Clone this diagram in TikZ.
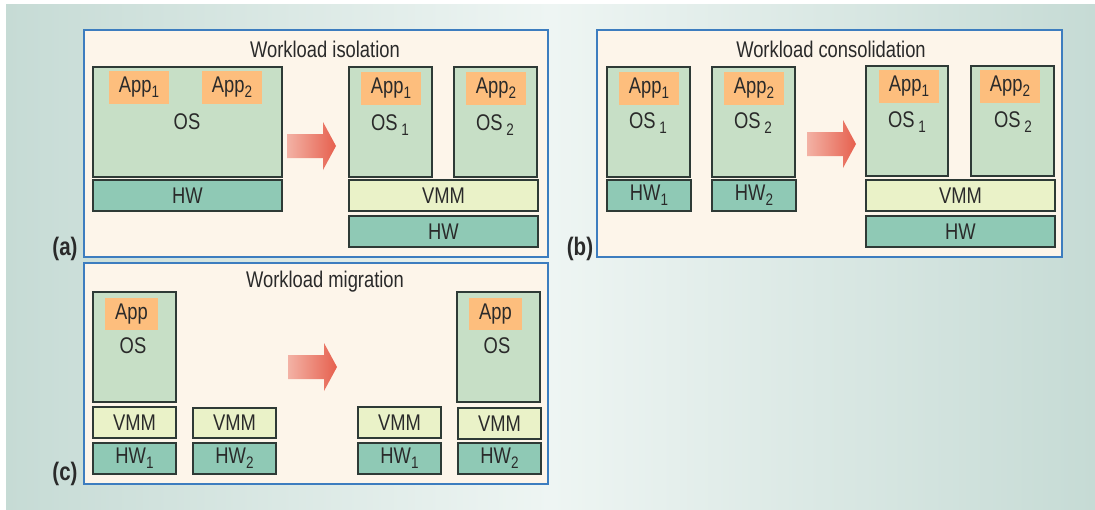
\documentclass[tikz,border=0pt]{standalone}
\usepackage{fontspec}
\setmainfont{Liberation Sans}[FakeStretch=0.81]

\definecolor{panelfill}{HTML}{FDF5EA}
\definecolor{panelline}{HTML}{3D7DBF}
\definecolor{osfill}{HTML}{C7DFC6}
\definecolor{appfill}{HTML}{FDBE7D}
\definecolor{hwfill}{HTML}{8FC9B5}
\definecolor{vmmfill}{HTML}{EAF2C8}
\definecolor{boxline}{HTML}{2E3A36}
\definecolor{bgside}{HTML}{C6DBD5}
\definecolor{bgmid}{HTML}{EEF5F3}
\definecolor{arrowlight}{HTML}{F3B2A5}
\definecolor{arrowdark}{HTML}{E6604E}
\definecolor{txt}{HTML}{2A2A2A}

\tikzset{every picture/.style={line width=0.75pt},
	every node/.style={inner sep=0pt, outer sep=0pt, text=txt, font=\fontsize{17}{19}\selectfont},
	panel/.style={draw=panelline, fill=panelfill, line width=1.1pt},
	osbox/.style={draw=boxline, fill=osfill, line width=1.2pt},
	appbox/.style={fill=appfill},
	hwbox/.style={draw=boxline, fill=hwfill, line width=1.2pt},
	vmmbox/.style={draw=boxline, fill=vmmfill, line width=1.2pt},
	tag/.style={font=\fontsize{19}{21}\selectfont\bfseries}}

% box from its corners (x1,y1) (x2,y2)
\newcommand\layer[7]{\node[#2, minimum width={(#5-#3)*0.75pt}, minimum height={(#6-#4)*0.75pt}] (#1) at ({(#3+#5)/2},{(#4+#6)/2}) {#7};}
\newcommand\idx[1]{\raisebox{-0.4ex}{\fontsize{12.5}{12.5}\selectfont #1}}
% shaded arrow, start x and middle y
\newcommand\movearrow[2]{\shade[left color=arrowlight, right color=arrowdark] (#1,#2-12) -- (#1+36,#2-12) -- (#1+36,#2-24) -- (#1+49,#2) -- (#1+36,#2+24) -- (#1+36,#2+12) -- (#1,#2+12) -- cycle;}

\begin{document}
\begin{tikzpicture}[x=0.75pt,y=0.75pt,yscale=-1]
	\useasboundingbox (0,0) rectangle (1095,510);
	\shade[left color=bgside, right color=bgside, middle color=bgmid] (6,5) rectangle (1095,510);

	% (a)
	\layer{pa}{panel}{84}{30}{548}{257}{}
	\node (pa-title) at (325,49) {Workload isolation};
	\layer{a-os}{osbox}{93}{67}{282}{177}{}
	\layer{a-app1}{appbox}{109}{71}{169}{104}{App\idx{1}}
	\layer{a-app2}{appbox}{202}{71}{262}{104}{App\idx{2}}
	\node (a-ostxt) at (187,122) {OS};
	\layer{a-hw}{hwbox}{93}{180}{282}{211}{HW}
	\movearrow{287}{146}
	\layer{a-os1}{osbox}{349}{67}{432}{177}{}
	\layer{a-os2}{osbox}{454}{67}{537}{177}{}
	\layer{a-vapp1}{appbox}{361}{72}{421}{105}{App\idx{1}}
	\layer{a-vapp2}{appbox}{466}{72}{526}{105}{App\idx{2}}
	\node (a-os1txt) at (390,125) {OS\,\idx{1}};
	\node (a-os2txt) at (495,125) {OS\,\idx{2}};
	\layer{a-vmm}{vmmbox}{349}{180}{538}{211}{VMM}
	\layer{a-vhw}{hwbox}{349}{216}{538}{247}{HW}
	\node[tag] (a-tag) at (65,249) {(a)};

	% (b)
	\layer{pb}{panel}{597}{30}{1062}{257}{}
	\node (pb-title) at (831,49) {Workload consolidation};
	\layer{b-os1}{osbox}{607}{67}{690}{177}{}
	\layer{b-app1}{appbox}{619}{72}{679}{105}{App\idx{1}}
	\node (b-os1txt) at (648,123) {OS\,\idx{1}};
	\layer{b-hw1}{hwbox}{607}{180}{691}{211}{HW\idx{1}}
	\layer{b-os2}{osbox}{712}{67}{795}{177}{}
	\layer{b-app2}{appbox}{724}{72}{784}{105}{App\idx{2}}
	\node (b-os2txt) at (753,123) {OS\,\idx{2}};
	\layer{b-hw2}{hwbox}{712}{180}{796}{211}{HW\idx{2}}
	\movearrow{807}{144}
	\layer{b-vos1}{osbox}{866}{66}{948}{176}{}
	\layer{b-vapp1}{appbox}{879}{70}{939}{103}{App\idx{1}}
	\node (b-vos1txt) at (907,122) {OS\,\idx{1}};
	\layer{b-vos2}{osbox}{971}{66}{1054}{176}{}
	\layer{b-vapp2}{appbox}{980}{70}{1040}{103}{App\idx{2}}
	\node (b-vos2txt) at (1013,122) {OS\,\idx{2}};
	\layer{b-vmm}{vmmbox}{866}{180}{1055}{211}{VMM}
	\layer{b-hw}{hwbox}{866}{216}{1055}{247}{HW}
	\node[tag] (b-tag) at (580,249) {(b)};

	% (c)
	\layer{pc}{panel}{84}{263}{548}{484}{}
	\node (pc-title) at (325,282) {Workload migration};
	\layer{c-os}{osbox}{93}{292}{176}{402}{}
	\layer{c-app}{appbox}{105}{298}{158}{330}{App}
	\node (c-ostxt) at (133,346) {OS};
	\layer{c-vmm1}{vmmbox}{93}{407}{176}{438}{VMM}
	\layer{c-hw1}{hwbox}{93}{443}{176}{474}{HW\idx{1}}
	\layer{c-vmm2}{vmmbox}{193}{408}{276}{438}{VMM}
	\layer{c-hw2}{hwbox}{193}{443}{276}{474}{HW\idx{2}}
	\movearrow{288}{367}
	\layer{c-vmm3}{vmmbox}{358}{407}{441}{438}{VMM}
	\layer{c-hw3}{hwbox}{358}{443}{441}{474}{HW\idx{1}}
	\layer{c-vos}{osbox}{457}{292}{540}{402}{}
	\layer{c-vapp}{appbox}{469}{298}{522}{330}{App}
	\node (c-vostxt) at (497,346) {OS};
	\layer{c-vmm4}{vmmbox}{458}{408}{541}{439}{VMM}
	\layer{c-hw4}{hwbox}{458}{443}{541}{474}{HW\idx{2}}
	\node[tag] (c-tag) at (65,474) {(c)};
\end{tikzpicture}
\end{document}
